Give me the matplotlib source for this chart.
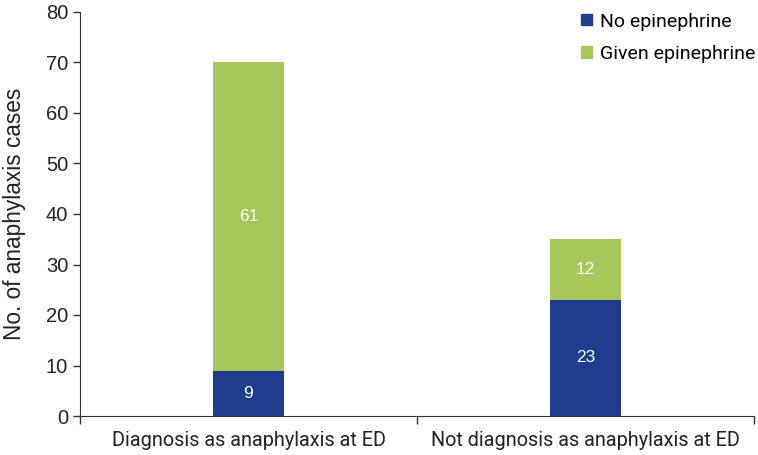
import matplotlib.pyplot as plt
from matplotlib.patches import Patch

# data
categories = ["Diagnosis as anaphylaxis at ED", "Not diagnosis as anaphylaxis at ED"]
no_epi = [9, 23]
given_epi = [61, 12]
series_names = ["No epinephrine", "Given epinephrine"]
blue = "#1f3c8f"
green = "#a8c75a"

fig = plt.figure(figsize=(7.58, 4.55), dpi=100)
ax = fig.add_axes([80/758, 39/455, 674/758, 404/455])

x = [0.5, 1.5]
ax.bar(x, no_epi, width=0.21, color=blue)
ax.bar(x, given_epi, width=0.21, bottom=no_epi, color=green)

# white value labels inside the segments
for xi, a, b in zip(x, no_epi, given_epi):
    ax.text(xi, a / 2, str(a), color="white", ha="center", va="center",
            fontsize=12.5, family="Liberation Sans")
    ax.text(xi, a + b / 2, str(b), color="white", ha="center", va="center",
            fontsize=12.5, family="Liberation Sans")

ax.set_xlim(0, 2)
ax.set_ylim(0, 80)
ax.set_yticks(range(0, 81, 10))
ax.tick_params(axis="y", labelsize=14.5, length=5, width=1, colors="#333333")
for lab in ax.get_yticklabels():
    lab.set_family("Liberation Sans")
    lab.set_color("#222222")

# boundary ticks as major, category labels on minor ticks
ax.set_xticks([0, 1, 2])
ax.set_xticklabels([])
ax.set_xticks(x, minor=True)
ax.set_xticklabels(categories, minor=True, fontsize=14.3, family="Roboto", color="#222222")
ax.tick_params(axis="x", which="major", length=6, width=1, colors="#333333")
ax.tick_params(axis="x", which="minor", length=0, pad=11)

ax.set_ylabel("No. of anaphylaxis cases", fontsize=16.3, family="Liberation Sans",
              color="#222222", labelpad=14)

ax.spines["top"].set_visible(False)
ax.spines["right"].set_visible(False)
ax.spines["left"].set_color("#333333")
ax.spines["bottom"].set_color("#333333")

handles = [Patch(color=blue), Patch(color=green)]
leg = ax.legend(handles, series_names, loc="upper right", frameon=False,
                prop={"family": "Roboto", "size": 14}, handlelength=0.55,
                handleheight=0.55, handletextpad=0.45, labelspacing=0.75,
                borderaxespad=0, bbox_to_anchor=(1.014, 1.018))

fig.savefig("out.png", dpi=100)
